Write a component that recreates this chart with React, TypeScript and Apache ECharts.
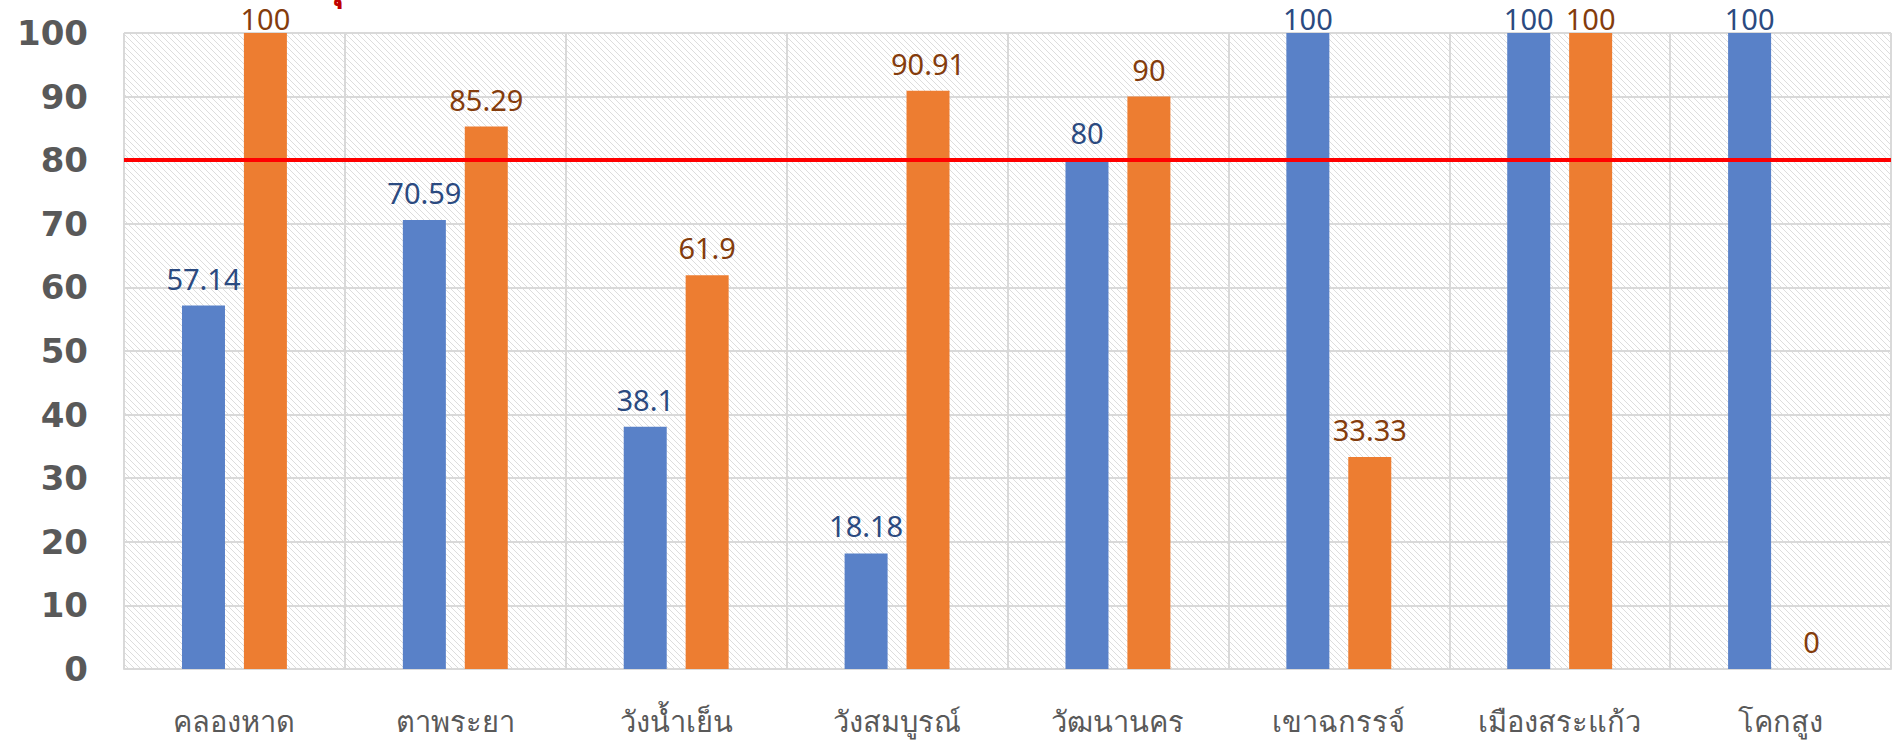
import React, { useEffect, useRef } from "react";
import * as echarts from "echarts";

const categories = ["คลองหาด", "ตาพระยา", "วังน้ำเย็น", "วังสมบูรณ์", "วัฒนานคร", "เขาฉกรรจ์", "เมืองสระแก้ว", "โคกสูง"];
const blueValues = [57.14, 70.59, 38.1, 18.18, 80, 100, 100, 100];
const orangeValues = [100, 85.29, 61.9, 90.91, 90, 33.33, 100, 0];
const targetValue = 80;
const yTicks = { min: 0, max: 100, interval: 10 };

function makeHatch() {
  const n = 6;
  const c = document.createElement("canvas");
  c.width = n;
  c.height = n;
  const ctx = c.getContext("2d")!;
  ctx.fillStyle = "#ffffff";
  ctx.fillRect(0, 0, n, n);
  ctx.fillStyle = "#dddddd";
  for (let i = 0; i < n; i++) ctx.fillRect(i, i, 1, 1);
  return c;
}

function withLabelDist(vals: number[]) {
  return vals.map((v) => (v >= 100 ? { value: v, label: { distance: 0 } } : v));
}

export default function App() {
  const ref = useRef<HTMLDivElement>(null);
  useEffect(() => {
    if (!ref.current) return;
    const chart = echarts.init(ref.current, undefined, { renderer: "svg" });
    const labelFont = { fontFamily: "Noto Sans", fontSize: 29 };
    chart.setOption({
      animation: false,
      grid: {
        left: 124,
        right: 1,
        top: 33,
        bottom: 74,
        show: true,
        borderWidth: 0,
        backgroundColor: { image: makeHatch(), repeat: "repeat" },
      },
      xAxis: {
        type: "category",
        data: categories,
        axisLine: { show: true, lineStyle: { color: "#d9d9d9", width: 2 } },
        axisTick: { show: false },
        splitLine: { show: true, interval: 0, lineStyle: { color: "#d9d9d9", width: 2 } },
        axisLabel: { interval: 0, margin: 38, fontSize: 29, color: "#595959", fontFamily: "sans-serif" },
      },
      yAxis: {
        type: "value",
        min: yTicks.min,
        max: yTicks.max,
        interval: yTicks.interval,
        axisLine: { show: false },
        axisTick: { show: false },
        splitLine: { show: true, lineStyle: { color: "#d9d9d9", width: 2 } },
        axisLabel: { margin: 36, fontSize: 34, fontWeight: "bold", color: "#595959", fontFamily: "DejaVu Sans" },
      },
      series: [
        {
          type: "bar",
          data: withLabelDist(blueValues),
          barWidth: 43,
          barGap: "44%",
          itemStyle: { color: "#5981c8" },
          label: { show: true, position: "top", distance: 13, color: "#2b4a80", ...labelFont },
          markLine: {
            silent: true,
            symbol: "none",
            label: { show: false },
            lineStyle: { color: "#ff0000", width: 4, type: "solid" },
            data: [{ yAxis: targetValue }],
          },
        },
        {
          type: "bar",
          data: withLabelDist(orangeValues),
          barWidth: 43,
          barGap: "44%",
          itemStyle: { color: "#ed7d31" },
          label: { show: true, position: "top", distance: 13, color: "#843c0c", ...labelFont },
        },
      ],
      graphic: [
        {
          type: "text",
          left: 318,
          top: -36,
          style: { text: "ทุ", fill: "#c00000", fontSize: 40, fontWeight: "bold", fontFamily: "sans-serif" },
        },
      ],
    });
    return () => chart.dispose();
  }, []);
  return <div ref={ref} style={{ position: "absolute", left: 0, top: 0, width: 1892, height: 743 }} />;
}
